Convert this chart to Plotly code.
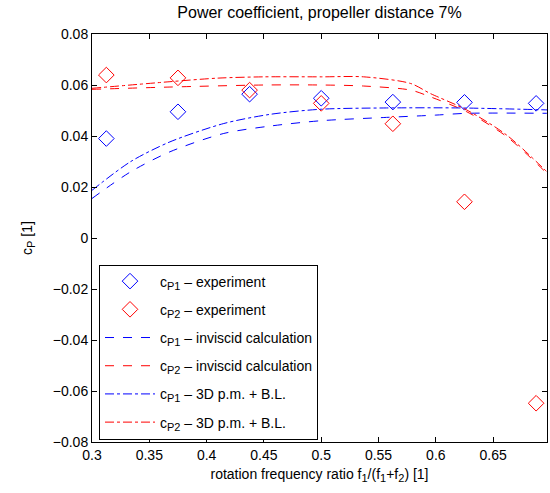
import plotly.graph_objects as go

# Experiment points
x_exp = [0.3125, 0.375, 0.4375, 0.5, 0.5625, 0.625, 0.6875]
cp1_exp = [0.0390, 0.0495, 0.0564, 0.0548, 0.0533, 0.0532, 0.0528]
cp2_exp = [0.0639, 0.0628, 0.0580, 0.0528, 0.0448, 0.0142, -0.0648]

# Inviscid calculation
x_cp1_inv = [0.3, 0.3335, 0.368, 0.415, 0.4555, 0.5, 0.557, 0.6, 0.627, 0.7]
cp1_inv = [0.0155, 0.0259, 0.0338, 0.0410, 0.0439, 0.0460, 0.0473, 0.0482, 0.0489, 0.0489]
x_cp2_inv = [0.3, 0.368, 0.45, 0.5, 0.537, 0.578, 0.595, 0.627, 0.662, 0.7]
cp2_inv = [0.0583, 0.0592, 0.0600, 0.0600, 0.0596, 0.0580, 0.0554, 0.0495, 0.0397, 0.0240]

# 3D panel method + boundary layer
x_cp1_3d = [0.3, 0.3335, 0.368, 0.415, 0.4555, 0.5, 0.557, 0.621, 0.7]
cp1_3d = [0.0187, 0.0299, 0.0377, 0.0449, 0.0485, 0.0505, 0.0510, 0.0510, 0.0502]
x_cp2_3d = [0.3, 0.368, 0.41, 0.45, 0.5, 0.537, 0.578, 0.595, 0.627, 0.662, 0.7]
cp2_3d = [0.0587, 0.0613, 0.0627, 0.0632, 0.0632, 0.0632, 0.0606, 0.0567, 0.0502, 0.0403, 0.0246]

BLUE = "#0000ff"
RED = "#ff0000"
FONT = "Liberation Sans, Arial, Helvetica, sans-serif"


def sub(s, size=11):
    return '<sub><span style="font-size:%dpx">%s</span></sub>' % (size, s)


fig = go.Figure()
fig.add_trace(go.Scatter(x=x_exp, y=cp1_exp, mode="markers", name="c" + sub("P1") + " – experiment",
                         marker=dict(symbol="diamond-open", size=12, color=BLUE, line=dict(width=1)),
                         legendgroup="a"))
fig.add_trace(go.Scatter(x=x_exp, y=cp2_exp, mode="markers", name="c" + sub("P2") + " – experiment",
                         marker=dict(symbol="diamond-open", size=12, color=RED, line=dict(width=1)),
                         legendgroup="b"))
fig.add_trace(go.Scatter(x=x_cp1_inv, y=cp1_inv, mode="lines", name="c" + sub("P1") + " – inviscid calculation",
                         line=dict(color=BLUE, width=1, dash="dash", shape="spline", smoothing=0.8),
                         legendgroup="c"))
fig.add_trace(go.Scatter(x=x_cp2_inv, y=cp2_inv, mode="lines", name="c" + sub("P2") + " – inviscid calculation",
                         line=dict(color=RED, width=1, dash="dash", shape="spline", smoothing=0.8),
                         legendgroup="d"))
fig.add_trace(go.Scatter(x=x_cp1_3d, y=cp1_3d, mode="lines", name="c" + sub("P1") + " – 3D p.m. + B.L.",
                         line=dict(color=BLUE, width=1, dash="dashdot", shape="spline", smoothing=0.8),
                         legendgroup="e"))
fig.add_trace(go.Scatter(x=x_cp2_3d, y=cp2_3d, mode="lines", name="c" + sub("P2") + " – 3D p.m. + B.L.",
                         line=dict(color=RED, width=1, dash="dashdot", shape="spline", smoothing=0.8),
                         legendgroup="f"))

axis_common = dict(showline=True, linecolor="black", linewidth=1, mirror="ticks",
                   ticks="inside", ticklen=5, tickcolor="black", showgrid=False, zeroline=False,
                   tickfont=dict(size=14, color="black", family=FONT))

fig.update_layout(
    width=550, height=493,
    margin=dict(l=92, r=3, t=34, b=51),
    paper_bgcolor="white", plot_bgcolor="white",
    font=dict(family=FONT, size=14, color="black"),
    title=dict(text="Power coefficient, propeller distance 7%", x=0.5, xref="paper", xanchor="center",
               y=0.975, yanchor="middle", font=dict(size=16, family=FONT)),
    xaxis=dict(range=[0.3, 0.697], tickvals=[0.3, 0.35, 0.4, 0.45, 0.5, 0.55, 0.6, 0.65],
               ticktext=["0.3", "0.35", "0.4", "0.45", "0.5", "0.55", "0.6", "0.65"],
               title=dict(text="rotation frequency ratio f" + sub("1") + "/(f" + sub("1") + "+f" + sub("2") + ") [1]",
                          font=dict(size=14, family=FONT), standoff=7),
               **axis_common),
    yaxis=dict(range=[-0.08, 0.08], tickvals=[-0.08, -0.06, -0.04, -0.02, 0, 0.02, 0.04, 0.06, 0.08],
               ticktext=["−0.08", "−0.06", "−0.04", "−0.02", "0", "0.02", "0.04", "0.06", "0.08"],
               title=dict(text="c" + sub("P") + " [1]", font=dict(size=14, family=FONT), standoff=16),
               **axis_common),
    legend=dict(x=0.0154, y=0.435, xanchor="left", yanchor="top",
                bgcolor="white", bordercolor="black", borderwidth=1,
                font=dict(size=14, family=FONT), tracegroupgap=7, traceorder="grouped",
                itemwidth=50),
    showlegend=True,
)

fig.write_html("out.html")
